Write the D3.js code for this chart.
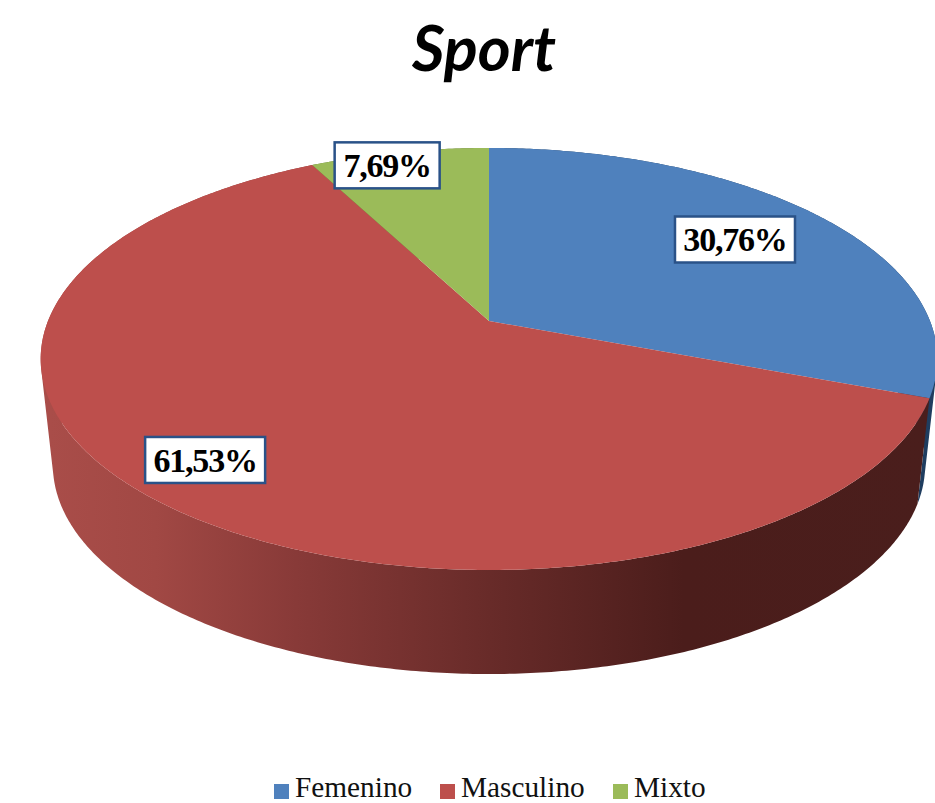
<!DOCTYPE html>
<html>
<head>
<meta charset="utf-8">
<script src="https://cdn.jsdelivr.net/npm/d3@7"></script>
<style>
  html, body { margin: 0; padding: 0; background: #fff; overflow: hidden; }
  svg { display: block; }
</style>
</head>
<body>
<div id="chart"></div>
<script>
// Data
const categories = ["Femenino", "Masculino", "Mixto"];
const values = [30.76, 61.53, 7.69];
const labels = ["30,76%", "61,53%", "7,69%"];
const title = "Sport";

const colors = ["#4f81bd", "#bd4f4c", "#9bbb59"];
const wallColors = ["#1f3d5f", null, "#5d7335"];

const width = 935, height = 803;
const svg = d3.select("#chart").append("svg")
  .attr("width", width)
  .attr("height", height);

// Tilted disc: unit circle to screen, with perspective so the apex sits above the ellipse centre
const persp = -0.18;
const topDisc = { cx: 489, dx: 441, a: 146.4, b: 321 };
const baseDisc = { cx: 489, dx: 429, a: 125.3, b: 427.4 };

function project(disc, angle, r) {
  const u = r * Math.sin(angle), v = -r * Math.cos(angle);
  const w = 1 + persp * v;
  return [disc.cx + disc.dx * u / w, (disc.a * v + disc.b) / w];
}

function rim(disc, a0, a1) {
  const n = Math.max(2, Math.ceil((a1 - a0) / 0.01));
  return d3.range(n + 1).map(i => project(disc, a0 + (a1 - a0) * i / n, 1));
}

// Wall as one quad per rim step. All quads need the same winding,
// otherwise they cancel where the wall folds at the silhouette.
function wallPath(a0, a1) {
  const t = rim(topDisc, a0, a1), b = rim(baseDisc, a0, a1);
  return d3.range(t.length - 1)
    .map(i => {
      const quad = [t[i], t[i + 1], b[i + 1], b[i]];
      if (d3.polygonArea(quad) < 0) quad.reverse();
      return line(quad) + "Z";
    })
    .join("");
}

const pie = d3.pie().sort(null)(values);
const line = d3.line();

// Side wall shading
const defs = svg.append("defs");
const grad = defs.append("linearGradient")
  .attr("id", "wall-gradient")
  .attr("gradientUnits", "userSpaceOnUse")
  .attr("x1", 50).attr("y1", 0)
  .attr("x2", 930).attr("y2", 0);
[[0, "#a94d49"], [0.12, "#a14844"], [0.28, "#883a38"], [0.5, "#682b29"], [0.72, "#4b1d1b"], [1, "#4a1e1c"]]
  .forEach(s => grad.append("stop").attr("offset", s[0]).attr("stop-color", s[1]));

svg.append("g").selectAll("path")
  .data(pie)
  .enter().append("path")
  .attr("d", d => wallPath(d.startAngle, d.endAngle))
  .attr("fill", (d, i) => wallColors[i] || "url(#wall-gradient)");

// Top face
svg.append("g").selectAll("path")
  .data(pie)
  .enter().append("path")
  .attr("d", d => line([project(topDisc, 0, 0)].concat(rim(topDisc, d.startAngle, d.endAngle))) + "Z")
  .attr("fill", (d, i) => colors[i]);

// Data labels: radial factor along the slice middle, then a small nudge
const labelLayout = [
  { r: 0.757, nudge: -9, w: 120 },
  { r: 0.81, nudge: -18, w: 120 },
  { r: 0.91, nudge: -19, w: 105 }
];
const boxH = 46;

const labelG = svg.append("g").selectAll("g")
  .data(pie)
  .enter().append("g")
  .attr("transform", (d, i) => {
    const p = project(topDisc, (d.startAngle + d.endAngle) / 2, labelLayout[i].r);
    return `translate(${p[0] + labelLayout[i].nudge},${p[1]})`;
  });

labelG.append("rect")
  .attr("x", (d, i) => -labelLayout[i].w / 2)
  .attr("y", -boxH / 2)
  .attr("width", (d, i) => labelLayout[i].w)
  .attr("height", boxH)
  .attr("fill", "#fff")
  .attr("stroke", "#2a5288")
  .attr("stroke-width", 2.5);

labelG.append("text")
  .attr("text-anchor", "middle")
  .attr("y", 12)
  .attr("font-family", "'Liberation Serif', serif")
  .attr("font-weight", "bold")
  .attr("font-size", "34px")
  .attr("letter-spacing", "-1.2px")
  .attr("fill", "#000")
  .text((d, i) => labels[i]);

// Title
svg.append("text")
  .attr("x", 484)
  .attr("y", 71)
  .attr("text-anchor", "middle")
  .attr("font-family", "Lato, 'Open Sans', sans-serif")
  .attr("font-weight", "bold")
  .attr("font-style", "italic")
  .attr("font-size", "63px")
  .attr("fill", "#000")
  .text(title);

// Legend
const legendX = d3.scaleOrdinal().domain(categories).range([274, 440, 613]);
const legend = svg.append("g").selectAll("g")
  .data(categories)
  .enter().append("g")
  .attr("transform", d => `translate(${legendX(d)},784)`);

legend.append("rect")
  .attr("width", 15)
  .attr("height", 15)
  .attr("fill", (d, i) => colors[i]);

legend.append("text")
  .attr("x", 21)
  .attr("y", 12.5)
  .attr("font-family", "'Liberation Serif', serif")
  .attr("font-size", "29.3px")
  .attr("fill", "#111")
  .text(d => d);
</script>
</body>
</html>
